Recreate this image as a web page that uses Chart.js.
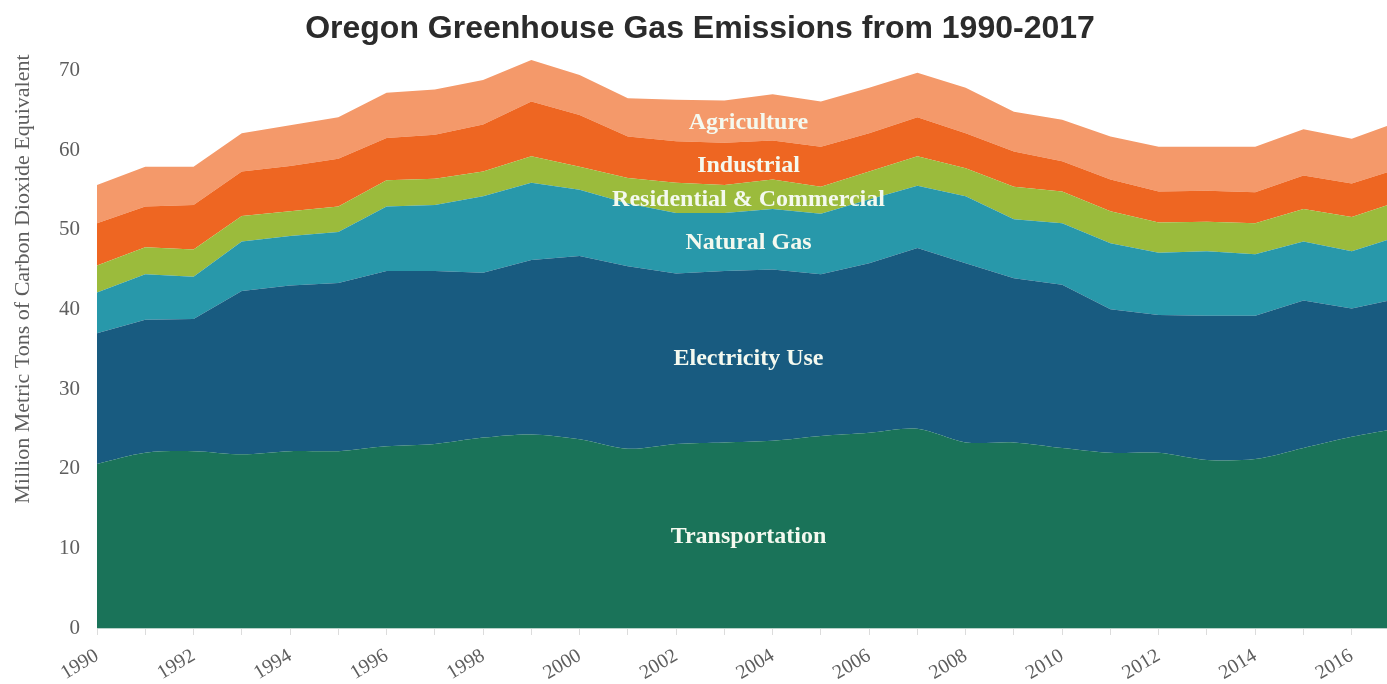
<!DOCTYPE html>
<html>
<head>
<meta charset="utf-8">
<script src="https://cdn.jsdelivr.net/npm/chart.js@4/dist/chart.umd.min.js"></script>
<style>
  html, body { margin: 0; padding: 0; background: #fff; overflow: hidden; }
  #wrap { width: 1400px; height: 684px; position: relative; }
</style>
</head>
<body>
<div id="wrap"><canvas id="ghgChart"></canvas></div>
<script>
// Oregon GHG emissions, million metric tons CO2e
const years = ['1990','1991','1992','1993','1994','1995','1996','1997','1998','1999',
               '2000','2001','2002','2003','2004','2005','2006','2007','2008','2009',
               '2010','2011','2012','2013','2014','2015','2016','2017'];

const transportation = [20.6, 22.0, 22.2, 21.8, 22.2, 22.2, 22.8, 23.1, 23.9, 24.3,
                        23.7, 22.5, 23.1, 23.3, 23.5, 24.1, 24.5, 25.0, 23.3, 23.3,
                        22.6, 22.0, 22.0, 21.1, 21.2, 22.6, 24.0, 25.1];
const electricity = [16.4, 16.7, 16.6, 20.5, 20.8, 21.1, 22.0, 21.7, 20.7, 21.9,
                     23.0, 22.9, 21.4, 21.5, 21.5, 20.3, 21.3, 22.7, 22.5, 20.6,
                     20.5, 18.0, 17.3, 18.1, 18.0, 18.5, 16.1, 16.3];
const naturalGas = [5.1, 5.7, 5.3, 6.2, 6.2, 6.4, 8.1, 8.3, 9.6, 9.7,
                    8.3, 7.9, 7.6, 7.3, 7.6, 7.6, 8.0, 7.8, 8.4, 7.4,
                    7.7, 8.3, 7.8, 8.1, 7.7, 7.4, 7.2, 7.8];
const residential = [3.4, 3.4, 3.4, 3.2, 3.1, 3.2, 3.3, 3.3, 3.1, 3.3,
                     2.9, 3.2, 3.8, 3.5, 3.7, 3.4, 3.5, 3.7, 3.5, 4.1,
                     4.0, 4.0, 3.8, 3.7, 3.9, 4.1, 4.3, 4.4];
const industrial = [5.3, 5.1, 5.6, 5.6, 5.7, 6.0, 5.3, 5.5, 5.9, 6.9,
                    6.5, 5.2, 5.2, 5.3, 4.9, 5.0, 4.8, 4.9, 4.4, 4.4,
                    3.8, 4.0, 3.9, 3.9, 3.9, 4.2, 4.2, 4.1];
const agriculture = [4.8, 5.0, 4.8, 4.8, 5.1, 5.2, 5.7, 5.7, 5.6, 5.2,
                     5.0, 4.8, 5.2, 5.3, 5.8, 5.7, 5.7, 5.6, 5.7, 5.0,
                     5.2, 5.4, 5.6, 5.5, 5.7, 5.8, 5.6, 5.9];

const yTicks = [0, 10, 20, 30, 40, 50, 60, 70];

const seriesNames = ['Transportation', 'Electricity Use', 'Natural Gas',
                     'Residential & Commercial', 'Industrial', 'Agriculture'];
const seriesColors = ['#1a7359', '#185b80', '#2898aa', '#9bbb3c', '#ee6622', '#f4996a'];

// where the in-chart names sit (category index, value)
const labelSpots = [[13.5, 11.4], [13.5, 33.8], [13.5, 48.3], [13.5, 53.7], [13.5, 58.0], [13.5, 63.4]];

const SERIF = '"Liberation Serif", "Times New Roman", serif';
const SANS = '"Liberation Sans", Arial, sans-serif';

const seriesData = [transportation, electricity, naturalGas, residential, industrial, agriculture];

const datasets = seriesData.map((d, i) => ({
  label: seriesNames[i],
  data: d,
  backgroundColor: seriesColors[i],
  borderColor: seriesColors[i],
  borderWidth: 0,
  pointRadius: 0,
  tension: i === 0 ? 0.3 : 0,
  fill: i === 0 ? 'origin' : '-1'
}));

// write the series names on top of the areas
const areaLabels = {
  id: 'areaLabels',
  afterDatasetsDraw(chart) {
    const ctx = chart.ctx;
    const xs = chart.scales.x, ys = chart.scales.y;
    ctx.save();
    ctx.font = 'bold 24px ' + SERIF;
    ctx.fillStyle = '#f4f9ef';
    ctx.textAlign = 'center';
    ctx.textBaseline = 'middle';
    labelSpots.forEach((s, i) => {
      ctx.fillText(seriesNames[i], xs.getPixelForValue(s[0]), ys.getPixelForValue(s[1]));
    });
    ctx.restore();
  }
};

const ctx = document.getElementById('ghgChart').getContext('2d');
const ghgChart = new Chart(ctx, {
  type: 'line',
  data: { labels: years, datasets: datasets },
  options: {
    responsive: true,
    maintainAspectRatio: false,
    animation: false,
    layout: { padding: 0 },
    plugins: {
      legend: { display: false },
      tooltip: { enabled: false },
      title: {
        display: true,
        text: 'Oregon Greenhouse Gas Emissions from 1990-2017',
        color: '#2b2b2b',
        font: { family: SANS, size: 32, weight: 'bold' },
        padding: { top: 10, bottom: 6 }
      }
    },
    scales: {
      x: {
        offset: false,
        grid: { display: true, drawOnChartArea: false, drawTicks: true, tickLength: 7, color: '#dcdcdc' },
        border: { display: true, color: '#b9d2ca', width: 1 },
        ticks: {
          autoSkip: false,
          maxRotation: 31,
          minRotation: 31,
          padding: 9,
          color: '#5e5e5e',
          font: { family: SERIF, size: 20 },
          callback: function (val, idx) { return idx % 2 === 0 ? this.getLabelForValue(val) : ''; }
        },
        afterFit: (scale) => {
          scale.height = 56;
          scale.paddingLeft = 0;
          scale.paddingRight = 0;
        }
      },
      y: {
        stacked: true,
        min: 0,
        max: 72,
        grid: { display: false, drawTicks: false },
        border: { display: false },
        afterBuildTicks: (scale) => { scale.ticks = yTicks.map(v => ({ value: v })); },
        ticks: {
          padding: 17,
          color: '#5e5e5e',
          font: { family: SERIF, size: 21 }
        },
        title: {
          display: true,
          text: 'Million Metric Tons of Carbon Dioxide Equivalent',
          align: 'end',
          color: '#5e5e5e',
          font: { family: SERIF, size: 22 },
          padding: { top: 10, bottom: 0 }
        },
        afterFit: (scale) => { scale.width = 97; }
      }
    }
  },
  plugins: [areaLabels]
});
</script>
</body>
</html>
